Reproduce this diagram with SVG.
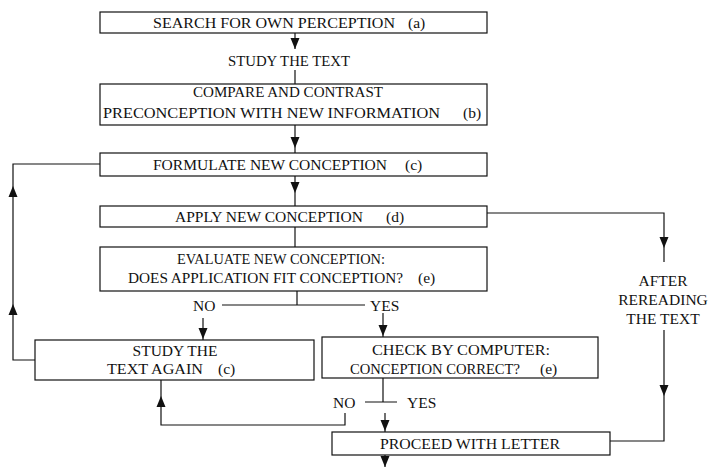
<svg xmlns="http://www.w3.org/2000/svg" width="709" height="468" viewBox="0 0 709 468">
  <style>
    .box { fill: #fff; stroke: #111; stroke-width: 1.2; }
    .wire { fill: none; stroke: #111; stroke-width: 1.2; }
    text { font-family: "Liberation Serif", "Times New Roman", serif; font-size: 15.5px; fill: #111; }
    .mid { text-anchor: middle; }
  </style>
  <defs>
    <!-- arrowhead pointing down, tip at origin -->
    <polygon id="down" points="0,0 -4.5,-11 4.5,-11" fill="#111"/>
    <!-- arrowhead pointing up, tip at origin -->
    <polygon id="up" points="0,0 -4.5,11 4.5,11" fill="#111"/>
  </defs>

  <rect width="709" height="468" fill="#fff"/>

  <g id="connectors">
    <!-- main spine -->
    <path class="wire" d="M295,33 V49"/>
    <use href="#down" x="295" y="49"/>
    <path class="wire" d="M295,70 V84"/>
    <path class="wire" d="M295,125 V153"/>
    <use href="#down" x="295" y="148"/>
    <path class="wire" d="M295,176 V206"/>
    <use href="#down" x="295" y="193"/>
    <path class="wire" d="M295,227 V247"/>
    <!-- evaluate branch -->
    <path class="wire" d="M297,291 V305 M222,305 H365"/>
    <path class="wire" d="M203,318 V340"/>
    <use href="#down" x="203" y="339"/>
    <path class="wire" d="M383,313 V337"/>
    <use href="#down" x="383" y="336"/>
    <!-- loop back to formulate -->
    <path class="wire" d="M35,360 H13 V164 H100"/>
    <use href="#up" x="13" y="186"/>
    <use href="#up" x="13" y="304"/>
    <!-- check branch -->
    <path class="wire" d="M383,378 V402 M365,402 H397"/>
    <path class="wire" d="M345,413 V425 H161 V380"/>
    <use href="#up" x="161" y="396"/>
    <path class="wire" d="M385,413 V432"/>
    <use href="#down" x="385" y="431"/>
    <path class="wire" d="M385,455 V467"/>
    <use href="#down" x="385" y="467"/>
    <!-- rereading path -->
    <path class="wire" d="M487,213 H664 V262"/>
    <use href="#down" x="664" y="248"/>
    <path class="wire" d="M664,330 V441 H610"/>
    <use href="#down" x="664" y="396"/>
  </g>

  <g id="node-a">
    <rect class="box" x="100" y="12" width="387" height="21"/>
    <text x="153" y="28" textLength="242" lengthAdjust="spacingAndGlyphs">SEARCH FOR OWN PERCEPTION</text>
    <text x="408" y="28">(a)</text>
  </g>

  <g id="label-study">
    <text x="228" y="66" textLength="122" lengthAdjust="spacingAndGlyphs">STUDY THE TEXT</text>
  </g>

  <g id="node-b">
    <rect class="box" x="100" y="84" width="387" height="41"/>
    <text x="193" y="97" textLength="190" lengthAdjust="spacingAndGlyphs">COMPARE AND CONTRAST</text>
    <text x="103" y="118" textLength="337" lengthAdjust="spacingAndGlyphs">PRECONCEPTION WITH NEW INFORMATION</text>
    <text x="463" y="118">(b)</text>
  </g>

  <g id="node-c">
    <rect class="box" x="100" y="153" width="387" height="23"/>
    <text x="153" y="170">FORMULATE NEW CONCEPTION</text>
    <text x="405" y="170">(c)</text>
  </g>

  <g id="node-d">
    <rect class="box" x="100" y="206" width="387" height="21"/>
    <text x="175" y="222">APPLY NEW CONCEPTION</text>
    <text x="386" y="222">(d)</text>
  </g>

  <g id="node-e">
    <rect class="box" x="100" y="247" width="387" height="44"/>
    <text x="177" y="264" textLength="208" lengthAdjust="spacingAndGlyphs">EVALUATE NEW CONCEPTION:</text>
    <text x="128" y="283" textLength="275" lengthAdjust="spacingAndGlyphs">DOES APPLICATION FIT CONCEPTION?</text>
    <text x="418" y="283">(e)</text>
  </g>

  <g id="labels-eval">
    <text x="193" y="311">NO</text>
    <text x="370" y="311">YES</text>
  </g>

  <g id="node-study-again">
    <rect class="box" x="35" y="340" width="279" height="40"/>
    <text class="mid" x="175" y="356">STUDY THE</text>
    <text x="107" y="374" textLength="96" lengthAdjust="spacingAndGlyphs">TEXT AGAIN</text>
    <text x="218" y="374">(c)</text>
  </g>

  <g id="node-check">
    <rect class="box" x="322" y="337" width="276" height="41"/>
    <text x="372" y="355" textLength="178" lengthAdjust="spacingAndGlyphs">CHECK BY COMPUTER:</text>
    <text x="350" y="374" textLength="170" lengthAdjust="spacingAndGlyphs">CONCEPTION CORRECT?</text>
    <text x="540" y="374">(e)</text>
  </g>

  <g id="labels-check">
    <text x="333" y="408">NO</text>
    <text x="407" y="408">YES</text>
  </g>

  <g id="node-proceed">
    <rect class="box" x="332" y="432" width="278" height="23"/>
    <text x="380" y="449" textLength="180" lengthAdjust="spacingAndGlyphs">PROCEED WITH LETTER</text>
  </g>

  <g id="label-reread">
    <text class="mid" x="663" y="286">AFTER</text>
    <text class="mid" x="663" y="305">REREADING</text>
    <text class="mid" x="663" y="324">THE TEXT</text>
  </g>
</svg>
